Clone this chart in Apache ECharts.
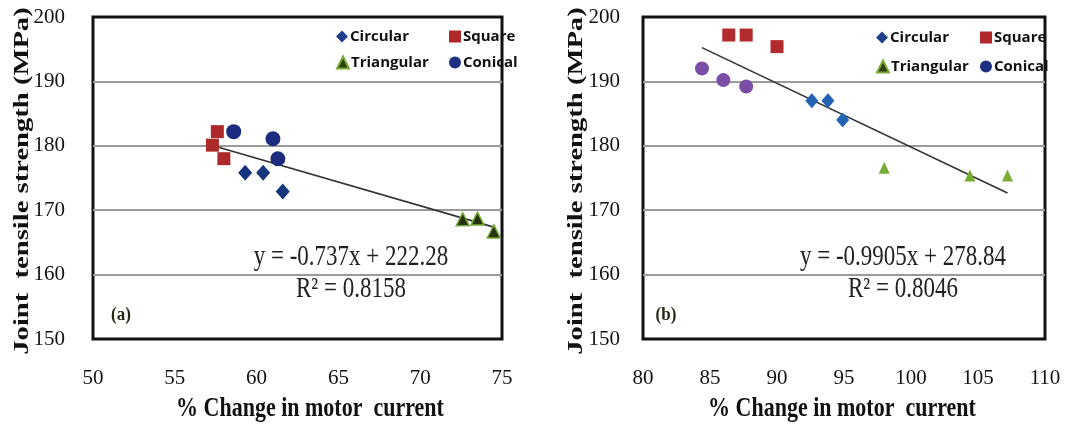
<!DOCTYPE html>
<html>
<head>
<meta charset="utf-8">
<script src="https://cdn.jsdelivr.net/npm/echarts@6/dist/echarts.min.js"></script>
<style>
  html, body { margin: 0; padding: 0; background: #fff; }
  #chart { width: 1090px; height: 425px; }
</style>
</head>
<body>
<div id="chart"></div>
<script>
// Panel (a): [% change in motor current, joint tensile strength MPa]
const circularA   = [[59.3, 175.8], [60.4, 175.8], [61.6, 172.9]];
const squareA     = [[57.6, 182.2], [57.3, 180.1], [58.0, 178.0]];
const triangularA = [[72.6, 168.6], [73.5, 168.7], [74.5, 166.7]];
const conicalA    = [[58.6, 182.2], [61.0, 181.1], [61.3, 178.0]];

// Panel (b)
const circularB   = [[92.6, 187.0], [93.8, 187.0], [94.9, 184.0]];
const squareB     = [[86.4, 197.2], [87.7, 197.2], [90.0, 195.4]];
const triangularB = [[98.0, 176.6], [104.4, 175.4], [107.2, 175.4]];
const conicalB    = [[84.4, 192.0], [86.0, 190.2], [87.7, 189.2]];

// Linear fits printed on each panel
const fitA = { slope: -0.737,  intercept: 222.28, r2: '0.8158', from: 57.3, to: 74.5 };
const fitB = { slope: -0.9905, intercept: 278.84, r2: '0.8046', from: 84.4, to: 107.2 };

const xTicksA = [50, 75, 5];
const xTicksB = [80, 110, 5];
const yTicks  = [150, 200, 10];

const xTitle = '% Change in motor  current';
const yTitle = 'Joint  tensile strength (MPa)';

function fitLine(f) {
  return [f.from, f.to].map(x => [x, +(f.slope * x + f.intercept).toFixed(3)]);
}
function eqText(f) {
  return 'y = ' + f.slope + 'x + ' + f.intercept;
}

const serif = '"Liberation Serif", "Times New Roman", serif';
const sans = '"Open Sans", Lato, sans-serif';

function xAxis(idx, t) {
  return {
    type: 'value', gridIndex: idx, min: t[0], max: t[1], interval: t[2],
    axisLine: { show: false }, axisTick: { show: false }, splitLine: { show: false },
    axisLabel: { margin: 29, fontFamily: serif, fontSize: 21, color: '#111' }
  };
}
function yAxis(idx, margin) {
  return {
    type: 'value', gridIndex: idx, min: yTicks[0], max: yTicks[1], interval: yTicks[2],
    axisLine: { show: false }, axisTick: { show: false },
    splitLine: { show: true, lineStyle: { color: ['#111', '#9a9a9a', '#9a9a9a', '#9a9a9a', '#9a9a9a', '#111'], width: 2 } },
    axisLabel: { margin: margin, fontFamily: serif, fontSize: 21, color: '#111' }
  };
}

function scatter(name, idx, data, symbol, size, fill, edge) {
  return {
    name: name, type: 'scatter', xAxisIndex: idx, yAxisIndex: idx, data: data,
    symbol: symbol, symbolSize: size, z: 3,
    itemStyle: { color: fill, borderColor: edge || fill, borderWidth: edge ? 1.5 : 0, opacity: 1 }
  };
}
function trend(idx, f) {
  return {
    type: 'line', xAxisIndex: idx, yAxisIndex: idx, data: fitLine(f),
    symbol: 'none', silent: true, z: 2,
    lineStyle: { color: '#333', width: 1.6 }
  };
}

const legendIcons = {
  Circular: { icon: 'diamond', color: '#1d3f8c' },
  Square: { icon: 'rect', color: '#b0282a' },
  Triangular: { icon: 'triangle', color: '#2c3f0e' },
  Conical: { icon: 'circle', color: '#1c2f80' }
};
function legendItem(name, left, top) {
  const l = legendIcons[name];
  return {
    data: [{ name: name, icon: l.icon, itemStyle: { color: l.color } }],
    left: left, top: top, itemWidth: 12, itemHeight: 12, itemGap: 2,
    padding: 0, selectedMode: false,
    textStyle: { fontFamily: sans, fontWeight: 'bold', fontSize: 15, color: '#111', padding: [0, 0, 0, -3] }
  };
}

// Text drawn a little taller than wide, like the printed figure
function label(text, x, y, font, fill, opts) {
  return Object.assign({
    type: 'text', x: x, y: y, silent: true,
    style: { text: text, font: font, fill: fill, align: 'center', verticalAlign: 'middle' }
  }, opts || {});
}

function panelTexts(f, cx, tag, tagX, xTitleX, yTitleX) {
  return [
    label(eqText(f), cx, 257, '23px ' + serif, '#222', { scaleY: 1.25 }),
    label('R² = ' + f.r2, cx, 289, '23px ' + serif, '#222', { scaleY: 1.25 }),
    label(tag, tagX, 315, 'bold 17px ' + serif, '#1f2a10', { scaleY: 1.15 }),
    label(xTitle, xTitleX, 409, 'bold 22px ' + serif, '#111', { scaleY: 1.25 }),
    label(yTitle, yTitleX, 181, 'bold 22px ' + serif, '#111', { rotation: Math.PI / 2, scaleX: 1.3 })
  ];
}

const chart = echarts.init(document.getElementById('chart'), null, { renderer: 'canvas' });
chart.setOption({
  backgroundColor: '#fff',
  animation: false,
  grid: [
    { left: 93, top: 17, width: 409, height: 322, show: true, borderColor: '#111', borderWidth: 3, backgroundColor: 'transparent' },
    { left: 643, top: 17, width: 402, height: 322, show: true, borderColor: '#111', borderWidth: 3, backgroundColor: 'transparent' }
  ],
  xAxis: [xAxis(0, xTicksA), xAxis(1, xTicksB)],
  yAxis: [yAxis(0, 28), yAxis(1, 23)],
  legend: [
    legendItem('Circular', 336, 29), legendItem('Square', 449, 29),
    legendItem('Triangular', 336, 55), legendItem('Conical', 449, 55),
    legendItem('Circular', 876, 30), legendItem('Square', 980, 30),
    legendItem('Triangular', 876, 59), legendItem('Conical', 980, 59)
  ],
  series: [
    trend(0, fitA),
    scatter('Circular', 0, circularA, 'diamond', [14, 16], '#17357e'),
    scatter('Square', 0, squareA, 'rect', 13, '#ad2a2a'),
    scatter('Triangular', 0, triangularA, 'triangle', [13, 13], '#24330c', '#7aa83a'),
    scatter('Conical', 0, conicalA, 'circle', 15, '#1c2c7e'),
    trend(1, fitB),
    scatter('Circular', 1, circularB, 'diamond', [13, 15], '#2463b3'),
    scatter('Square', 1, squareB, 'rect', 13, '#b22b2d'),
    scatter('Triangular', 1, triangularB, 'triangle', [11, 12], '#7aab35'),
    scatter('Conical', 1, conicalB, 'circle', 14, '#7a4da6')
  ],
  graphic: panelTexts(fitA, 351, '(a)', 121, 310, 22)
    .concat(panelTexts(fitB, 903, '(b)', 666, 842, 576))
});
</script>
</body>
</html>
